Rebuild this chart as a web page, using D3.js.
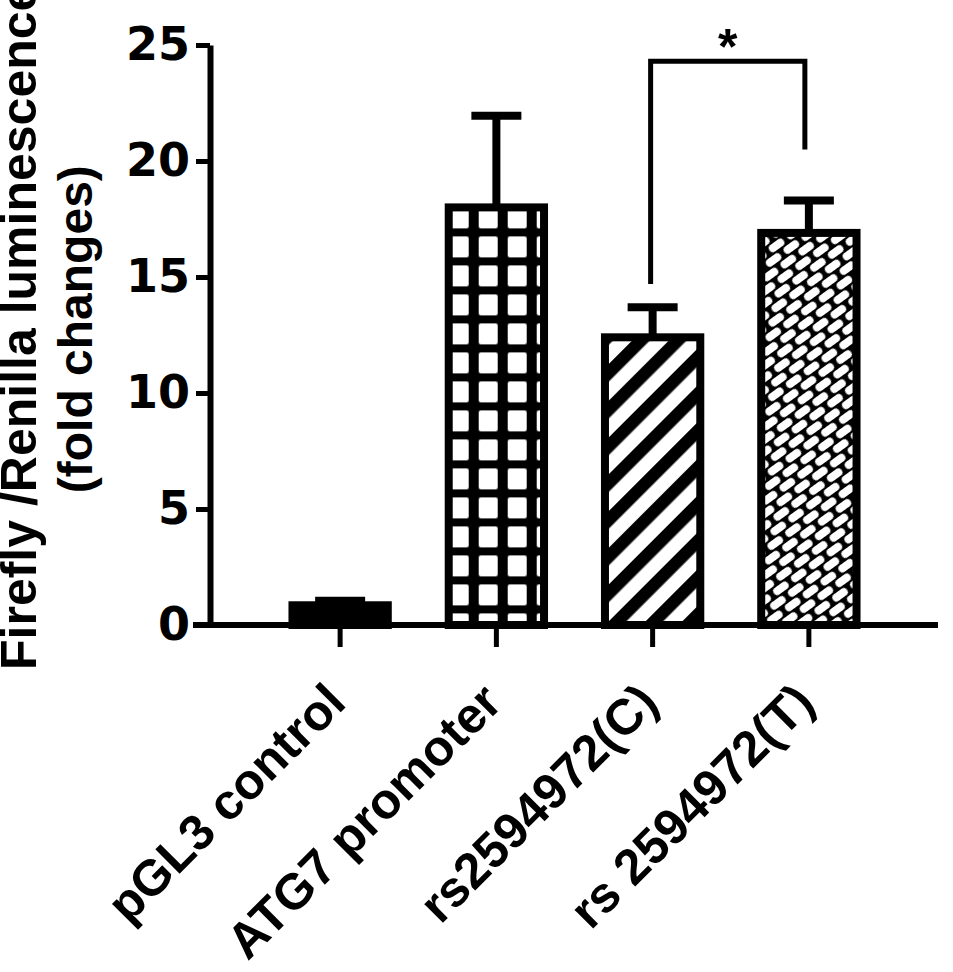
<!DOCTYPE html>
<html>
<head>
<meta charset="utf-8">
<script src="https://cdn.jsdelivr.net/npm/d3@7"></script>
<style>
  html, body { margin: 0; padding: 0; background: #fff; }
  svg { display: block; }
</style>
</head>
<body>
<svg id="chart" width="953" height="972"></svg>
<script>
// ---- data ----
const categories = ["pGL3 control", "ATG7 promoter", "rs2594972(C)", "rs 2594972(T)"];
const means = [0.85, 18.0, 12.4, 16.9];
const sems = [0.2, 3.95, 1.3, 1.4];
const yTicks = [0, 5, 10, 15, 20, 25];
const fills = ["solid", "grid", "stripes", "weave"];
const sigPair = ["rs2594972(C)", "rs 2594972(T)"];
const sigLevels = { left: 14.7, top: 24.3, right: 20.5 };
const sigLabel = "*";
const yTitle = ["Firefly /Renilla luminescence", "(fold changes)"];

// ---- layout ----
const FONT = "'Liberation Sans', Arial, Helvetica, sans-serif";
const svg = d3.select("#chart");
const y = d3.scaleLinear().domain([0, 25]).range([625, 45]);
const x = d3.scaleBand().domain(categories).range([262, 887]).paddingInner(0.39).paddingOuter(0.195);
const axisX = 210, xAxisRight = 938;
const rows = categories.map((c, i) => ({ cat: c, mean: means[i], sem: sems[i], fill: fills[i] }));

// ---- patterns ----
const defs = svg.append("defs");
const atg = rows[1];
const gp = defs.append("pattern").attr("id", "grid").attr("patternUnits", "userSpaceOnUse")
  .attr("x", x(atg.cat)).attr("y", y(atg.mean)).attr("width", 29).attr("height", 29);
gp.append("rect").attr("width", 29).attr("height", 29).attr("fill", "#000");
gp.append("rect").attr("x", 1).attr("y", 0).attr("width", 19).attr("height", 21).attr("rx", 2).attr("fill", "#fff");

const sp = defs.append("pattern").attr("id", "stripes").attr("patternUnits", "userSpaceOnUse")
  .attr("width", 26).attr("height", 26).attr("patternTransform", `translate(${x(rows[2].cat)},0) rotate(45)`);
sp.append("rect").attr("width", 26).attr("height", 26).attr("fill", "#fff");
sp.append("rect").attr("x", 0).attr("width", 12.5).attr("height", 26).attr("fill", "#000");

const PW = 22, PH = 20;
const wp = defs.append("pattern").attr("id", "weave").attr("patternUnits", "userSpaceOnUse")
  .attr("width", PW).attr("height", PH).attr("patternTransform", "rotate(-36)");
wp.append("rect").attr("width", PW).attr("height", PH).attr("fill", "#000");
[[PW / 2, PH / 4], [0, PH * 3 / 4], [PW, PH * 3 / 4]].forEach(([cx, cy]) => {
  wp.append("rect").attr("x", cx - 8.6).attr("y", cy - 3.9).attr("width", 17.2).attr("height", 7.8)
    .attr("rx", 3.9).attr("fill", "#fff");
});

const fillOf = f => f === "solid" ? "#000" : `url(#${f})`;

// ---- error bars (upper only) ----
const capW = 50;
const eb = svg.append("g");
eb.selectAll("line.v").data(rows).join("line")
  .attr("x1", d => x(d.cat) + x.bandwidth() / 2).attr("x2", d => x(d.cat) + x.bandwidth() / 2)
  .attr("y1", d => y(d.mean)).attr("y2", d => y(d.mean + d.sem))
  .attr("stroke", "#000").attr("stroke-width", 8);
eb.selectAll("line.c").data(rows).join("line")
  .attr("x1", d => x(d.cat) + x.bandwidth() / 2 - capW / 2).attr("x2", d => x(d.cat) + x.bandwidth() / 2 + capW / 2)
  .attr("y1", d => y(d.mean + d.sem)).attr("y2", d => y(d.mean + d.sem))
  .attr("stroke", "#000").attr("stroke-width", 8);

// ---- bars ----
svg.append("g").selectAll("rect").data(rows).join("rect")
  .attr("x", d => x(d.cat)).attr("width", x.bandwidth())
  .attr("y", d => y(d.mean)).attr("height", d => y(0) - y(d.mean))
  .attr("fill", d => fillOf(d.fill))
  .attr("stroke", "#000").attr("stroke-width", 8);

// ---- axes ----
const yAxis = svg.append("g").attr("transform", `translate(${axisX},0)`)
  .call(d3.axisLeft(y).tickValues(yTicks).tickSize(14).tickSizeOuter(0).tickPadding(6));
yAxis.select(".domain").attr("stroke-width", 6);
yAxis.selectAll(".tick line").attr("stroke-width", 5);
yAxis.selectAll(".tick text").attr("font-family", "'DejaVu Sans', sans-serif").attr("font-weight", "bold")
  .attr("font-size", 46).attr("fill", "#000");

// x baseline
svg.append("line").attr("x1", axisX - 17).attr("x2", xAxisRight)
  .attr("y1", y(0)).attr("y2", y(0)).attr("stroke", "#000").attr("stroke-width", 6);

const xAxis = svg.append("g").attr("transform", `translate(0,${y(0)})`)
  .call(d3.axisBottom(x).tickSize(22).tickSizeOuter(0));
xAxis.select(".domain").remove();
xAxis.selectAll(".tick line").attr("stroke-width", 5);
xAxis.selectAll(".tick text")
  .attr("font-family", FONT).attr("font-weight", "bold")
  .attr("font-size", 50).attr("fill", "#000")
  .attr("text-anchor", "end").attr("dy", 0).attr("y", 0)
  .attr("transform", "translate(8,80) rotate(-45)");

// ---- y title ----
const tg = svg.append("g").attr("font-family", FONT)
  .attr("font-weight", "bold").attr("fill", "#000");
tg.append("text").attr("transform", `translate(36,${y(0) + 45}) rotate(-90)`)
  .attr("text-anchor", "start").attr("font-size", 50).text(yTitle[0]);
tg.append("text").attr("transform", `translate(92,${y(12.75)}) rotate(-90)`)
  .attr("text-anchor", "middle").attr("font-size", 48).text(yTitle[1]);

// ---- significance bracket ----
const bx1 = x(sigPair[0]) + x.bandwidth() / 2 - 2;
const bx2 = x(sigPair[1]) + x.bandwidth() / 2 - 4;
svg.append("path")
  .attr("d", d3.line()([[bx1, y(sigLevels.left)], [bx1, y(sigLevels.top)], [bx2, y(sigLevels.top)], [bx2, y(sigLevels.right)]]))
  .attr("fill", "none").attr("stroke", "#000").attr("stroke-width", 5).attr("stroke-linejoin", "miter");
svg.append("text").attr("x", (bx1 + bx2) / 2).attr("y", y(sigLevels.top) + 3)
  .attr("text-anchor", "middle").attr("font-family", FONT)
  .attr("font-weight", "bold").attr("font-size", 50).text(sigLabel);
</script>
</body>
</html>
